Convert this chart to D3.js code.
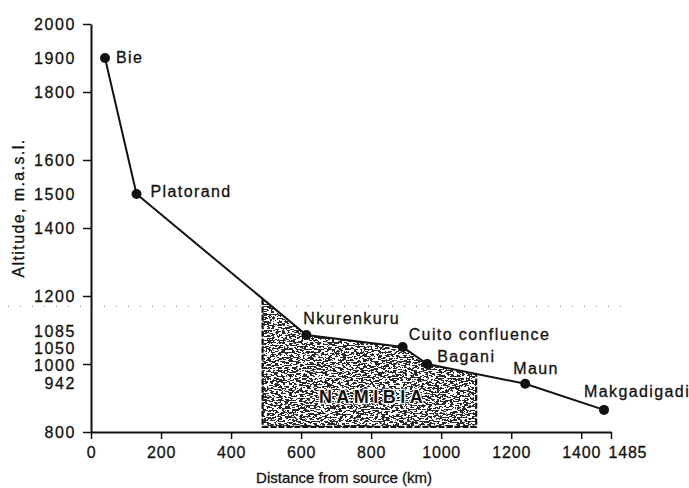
<!DOCTYPE html>
<html>
<head>
<script src="https://cdn.jsdelivr.net/npm/d3@7"></script>
<style type="text/css">
  body { margin: 0; background: #fff; }
  text { font-family: "Liberation Sans", Arial, sans-serif; fill: #111; stroke: #111; stroke-width: 0.3; }
</style>
</head>
<body>
<script>
  // river profile
  var places    = ["Bie", "Platorand", "Nkurenkuru", "Cuito confluence", "Bagani", "Maun", "Makgadigadi"];
  var distances = [40, 130, 615, 890, 960, 1240, 1465];
  var altitudes = [1900, 1500, 1085, 1050, 1000, 942, 865];

  var xTicks  = [0, 200, 400, 600, 800, 1000, 1200, 1400, 1485];
  var yTicks  = [800, 1000, 1200, 1400, 1600, 1800, 2000];
  var yLabels = [800, 942, 1000, 1050, 1085, 1200, 1400, 1500, 1600, 1800, 1900, 2000];

  var namibiaRange = [490, 1100];
  var namibiaBase = 815;
  var dottedAlt = 1170;

  // label offsets from each point (px)
  var labelOffsets = [[11, 5], [14, 3], [-3, -11], [6, -7], [10, -2], [-12, -10], [-20, -13]];
  // small nudges so the crowded y labels don't collide
  var yNudge = { 1085: -4, 1050: 1, 1000: 1 };

  var svg = d3.select("body").append("svg")
    .attr("width", 689)
    .attr("height", 488);

  var x = d3.scaleLinear().domain([0, 1485]).range([91, 611]);
  var y = d3.scaleLinear().domain([800, 2000]).range([432, 24]);

  var defs = svg.append("defs");
  var f = defs.append("filter").attr("id", "grain")
    .attr("x", 0).attr("y", 0).attr("width", 1).attr("height", 1);
  f.append("feTurbulence").attr("type", "fractalNoise")
    .attr("baseFrequency", "0.28 0.75").attr("numOctaves", 3).attr("seed", 7).attr("result", "n");
  f.append("feColorMatrix").attr("in", "n").attr("type", "matrix")
    .attr("values", "0 0 0 0 1  0 0 0 0 1  0 0 0 0 1  1 0 0 0 0").attr("result", "c");
  var ct = f.append("feComponentTransfer").attr("in", "c");
  ct.append("feFuncA").attr("type", "discrete").attr("tableValues", "0 1");

  // Namibia shaded section under the profile
  var pts = distances.map(function (d, i) { return [d, altitudes[i]]; });
  function altAt(d) {
    for (var i = 1; i < pts.length; i++) {
      if (d <= pts[i][0]) {
        var t = (d - pts[i - 1][0]) / (pts[i][0] - pts[i - 1][0]);
        return pts[i - 1][1] + t * (pts[i][1] - pts[i - 1][1]);
      }
    }
    return pts[pts.length - 1][1];
  }
  var nam = [namibiaRange[0]];
  distances.forEach(function (d) { if (d > namibiaRange[0] && d < namibiaRange[1]) nam.push(d); });
  nam.push(namibiaRange[1]);

  var area = d3.area()
    .x(function (d) { return x(d); })
    .y0(y(namibiaBase))
    .y1(function (d) { return y(altAt(d)); });

  defs.append("clipPath").attr("id", "namclip")
    .append("path").attr("d", area(nam));

  svg.append("path").attr("d", area(nam)).attr("fill", "#2a2a2a");
  svg.append("rect")
    .attr("x", x(namibiaRange[0])).attr("y", y(1200))
    .attr("width", x(namibiaRange[1]) - x(namibiaRange[0]))
    .attr("height", y(namibiaBase) - y(1200))
    .attr("clip-path", "url(#namclip)")
    .attr("filter", "url(#grain)");

  // dashed border: left, bottom, right
  svg.append("path")
    .attr("d", d3.line()([
      [x(namibiaRange[0]), y(altAt(namibiaRange[0]))],
      [x(namibiaRange[0]), y(namibiaBase)],
      [x(namibiaRange[1]), y(namibiaBase)],
      [x(namibiaRange[1]), y(altAt(namibiaRange[1]))]
    ]))
    .attr("fill", "none").attr("stroke", "#111").attr("stroke-width", 2.2)
    .attr("stroke-dasharray", "6,2");

  svg.append("text")
    .attr("x", x(800) + 2).attr("y", y(885))
    .attr("text-anchor", "middle")
    .attr("font-size", 18).attr("font-weight", "bold")
    .attr("letter-spacing", 4.5)
    .style("stroke", "#fff").style("stroke-width", 2.5).attr("paint-order", "stroke")
    .text("NAMIBIA");

  // faint dotted line
  svg.append("line")
    .attr("x1", 8).attr("x2", 630)
    .attr("y1", y(dottedAlt)).attr("y2", y(dottedAlt))
    .attr("stroke", "#888").attr("stroke-width", 1)
    .attr("stroke-dasharray", "1,11");

  // axes
  var yAxis = svg.append("g")
    .attr("transform", "translate(" + x(0) + ",0)")
    .call(d3.axisLeft(y).tickValues(yTicks).tickSize(8).tickSizeOuter(0).tickFormat(""));
  var xAxis = svg.append("g")
    .attr("transform", "translate(0," + y(800) + ")")
    .call(d3.axisBottom(x).tickValues(xTicks).tickSize(7).tickSizeOuter(0)
      .tickPadding(8).tickFormat(d3.format("d")));
  [yAxis, xAxis].forEach(function (g) {
    g.select(".domain").attr("stroke", "#111").attr("stroke-width", 2);
    g.selectAll(".tick line").attr("stroke", "#111").attr("stroke-width", 1.5);
  });
  xAxis.selectAll(".tick text")
    .attr("font-size", 16).attr("font-family", "Liberation Sans, Arial, sans-serif")
    .attr("fill", "#111").attr("letter-spacing", 0.8)
    .filter(function (d) { return d === 1485; })
    .attr("text-anchor", "start").attr("dx", -3);

  svg.append("g").selectAll("text")
    .data(yLabels)
    .enter()
    .append("text")
    .attr("x", x(0) - 15)
    .attr("y", function (d) { return y(d) + (yNudge[d] || 0); })
    .attr("dy", "0.35em")
    .attr("text-anchor", "end")
    .attr("font-size", 16)
    .attr("letter-spacing", 1.6)
    .text(function (d) { return d; });

  // profile line and points
  svg.append("path")
    .attr("d", d3.line().x(function (d) { return x(d[0]); }).y(function (d) { return y(d[1]); })(pts))
    .attr("fill", "none").attr("stroke", "#111").attr("stroke-width", 2)
    .style("stroke-width", 2);

  var group = svg.selectAll("g.pt")
    .data(pts)
    .enter()
    .append("g").attr("class", "pt");
  group.append("circle")
    .attr("cx", function (d) { return x(d[0]); })
    .attr("cy", function (d) { return y(d[1]); })
    .attr("r", 5).attr("fill", "#111");
  group.append("text")
    .attr("x", function (d, i) { return x(d[0]) + labelOffsets[i][0]; })
    .attr("y", function (d, i) { return y(d[1]) + labelOffsets[i][1]; })
    .attr("font-size", 16)
    .attr("letter-spacing", 1.4)
    .text(function (d, i) { return places[i]; });

  // axis titles
  svg.append("text")
    .attr("transform", "translate(24,208) rotate(-90)")
    .attr("text-anchor", "middle")
    .attr("font-size", 16).attr("letter-spacing", 1.4)
    .text("Altitude, m.a.s.l.");
  svg.append("text")
    .attr("x", 344).attr("y", 483)
    .attr("text-anchor", "middle")
    .attr("font-size", 15)
    .text("Distance from source (km)");
</script>
</body>
</html>
